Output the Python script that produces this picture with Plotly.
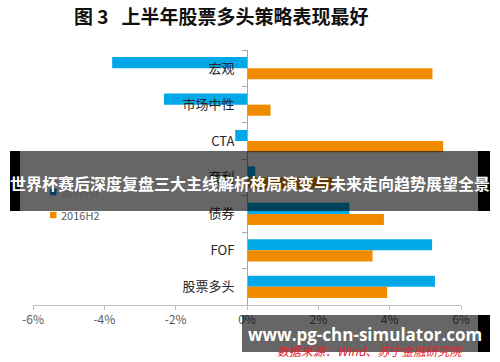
import plotly.graph_objects as go

categories = ["宏观", "市场中性", "CTA", "套利", "债券", "FOF", "股票多头"]
h1_values = [-3.78, -2.33, -0.33, 0.23, 2.87, 5.19, 5.27]
h2_values = [5.20, 0.66, 5.50, 2.40, 3.84, 3.52, 3.93]
series_names = ["2016H1", "2016H2"]
x_ticks = [-6, -4, -2, 0, 2, 4, 6]
x_ticklabels = ["-6%", "-4%", "-2%", "0%", "2%", "4%", "6%"]

BLUE = "#00A8E8"
ORANGE = "#F08B00"
CJK = "Noto Sans CJK SC"

fig = go.Figure()
fig.add_trace(go.Bar(y=categories, x=h1_values, orientation="h", name=series_names[0],
                     marker=dict(color=BLUE, line=dict(width=0))))
fig.add_trace(go.Bar(y=categories, x=h2_values, orientation="h", name=series_names[1],
                     marker=dict(color=ORANGE, line=dict(width=0))))

L, R, T, B = 33, 39, 50, 57
W, H = 500, 362
pw, ph = W - L - R, H - T - B

def px(x):
    return (x - L) / pw

def py(y):
    return (H - B - y) / ph

fig.update_layout(
    width=W, height=H,
    margin=dict(l=L, r=R, t=T, b=B),
    paper_bgcolor="white", plot_bgcolor="white",
    barmode="group", bargap=0.39, bargroupgap=0,
    font=dict(family=CJK, color="#404040"),
    showlegend=False,
    xaxis=dict(range=[-6, 6], tickvals=x_ticks, ticktext=x_ticklabels,
               showgrid=False, zeroline=False, showline=True, linecolor="#BFBFBF",
               ticks="outside", ticklen=4, tickcolor="#BFBFBF",
               tickfont=dict(size=12, color="#595959", family=CJK)),
    yaxis=dict(type="category", categoryorder="array", categoryarray=categories,
               autorange="reversed", anchor="free", position=0.5,
               showgrid=False, zeroline=False, showline=True, linecolor="#A6A6A6",
               ticks="outside", ticklen=5, tickcolor="#A6A6A6", tickson="boundaries",
               layer="above traces", ticklabelstandoff=10,
               tickfont=dict(size=13, color="#262626", family=CJK)),
)

# Custom legend (square swatches + text)
legend_colors = [BLUE, ORANGE]
legend_rows_y = [192, 215]
for name, col, yy in zip(series_names, legend_colors, legend_rows_y):
    fig.add_shape(type="rect", xref="paper", yref="paper", x0=px(50), x1=px(56.5),
                  y0=py(yy + 3.2), y1=py(yy - 3.2), fillcolor=col, line=dict(width=0), layer="below")
    fig.add_annotation(text=name, xref="paper", yref="paper", x=px(59), y=py(yy),
                       xanchor="left", yanchor="middle", showarrow=False,
                       font=dict(size=11, color="#595959", family=CJK))

# Title
fig.add_annotation(text="<b>图 3   上半年股票多头策略表现最好</b>", xref="paper", yref="paper",
                   x=px(72), y=py(15), xanchor="left", yanchor="middle", showarrow=False,
                   font=dict(size=19, color="#111111", family=CJK))

# Source
fig.add_annotation(text="<i>数据来源：Wind、苏宁金融研究院</i>", xref="paper", yref="paper",
                   x=px(466), y=py(350), xanchor="right", yanchor="middle", showarrow=False,
                   font=dict(size=12, color="#E8202A", family=CJK))

# Overlay banner (middle)
fig.add_shape(type="rect", xref="paper", yref="paper", x0=px(10), x1=px(20), y0=py(211), y1=py(151),
              fillcolor="black", line=dict(width=0), layer="above")
fig.add_shape(type="rect", xref="paper", yref="paper", x0=px(20), x1=px(478), y0=py(211), y1=py(151),
              fillcolor="rgba(0,0,0,0.6)", line=dict(width=0), layer="above")
fig.add_shape(type="rect", xref="paper", yref="paper", x0=px(478), x1=px(490), y0=py(211), y1=py(151),
              fillcolor="black", line=dict(width=0), layer="above")
fig.add_annotation(text="<b>世界杯赛后深度复盘三大主线解析格局演变与未来走向趋势展望全景</b>",
                   xref="paper", yref="paper", x=px(250), y=py(183), xanchor="center", yanchor="middle",
                   showarrow=False, font=dict(size=16, color="white", family=CJK))

# Watermark banner (bottom)
fig.add_shape(type="rect", xref="paper", yref="paper", x0=px(242), x1=px(478), y0=py(352), y1=py(315),
              fillcolor="rgba(0,0,0,0.6)", line=dict(width=0), layer="above")
fig.add_shape(type="rect", xref="paper", yref="paper", x0=px(478), x1=px(490), y0=py(352), y1=py(315),
              fillcolor="black", line=dict(width=0), layer="above")
fig.add_annotation(text="<b>www.pg-chn-simulator.com</b>", xref="paper", yref="paper",
                   x=px(365), y=py(334), xanchor="center", yanchor="middle", showarrow=False,
                   font=dict(size=17, color="white", family="Open Sans"))

fig.write_html("out.html")
